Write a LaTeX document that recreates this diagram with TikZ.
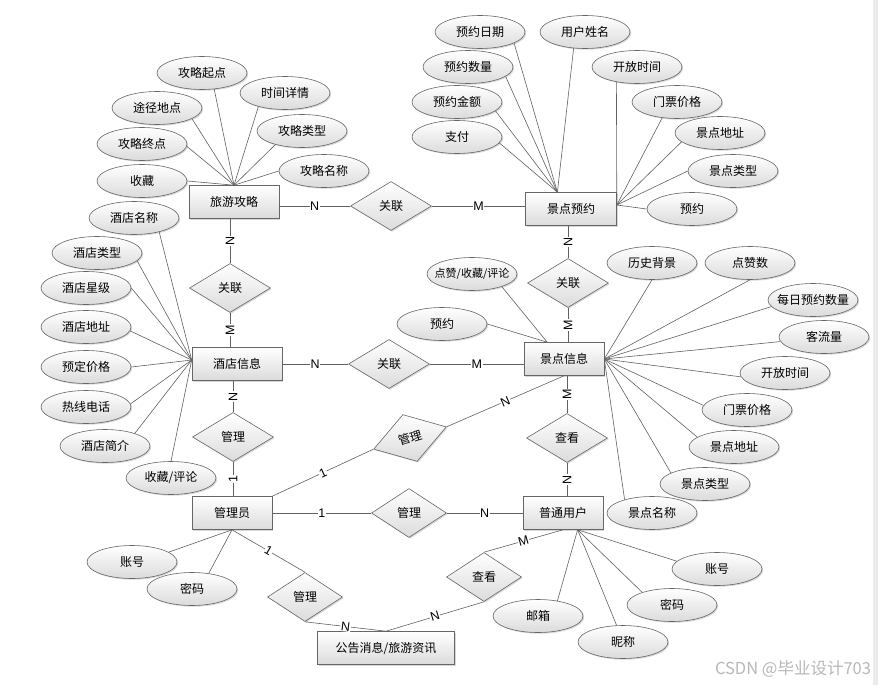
\documentclass[tikz,border=0pt]{standalone}
\usepackage{fontspec}
\setmainfont{Noto Sans CJK SC}
\newfontfamily\cardfont{Liberation Sans}
\usetikzlibrary{shapes.geometric}
\usetikzlibrary{shadows}

\tikzset{
	entity/.style={rectangle, draw=black!60, line width=0.6pt, top color=white, bottom color=black!14,
		minimum width=90pt, minimum height=33pt, inner sep=0pt, font=\fontsize{12}{14}\selectfont,
		drop shadow={shadow xshift=1.2pt, shadow yshift=-1.2pt, opacity=0.3}},
	attr/.style={ellipse, draw=black!60, line width=0.6pt, top color=white, bottom color=black!14,
		minimum width=90pt, minimum height=33pt, inner sep=0pt, font=\fontsize{12}{14}\selectfont,
		drop shadow={shadow xshift=1.2pt, shadow yshift=-1.2pt, opacity=0.3}},
	rel/.style={diamond, draw=black!60, line width=0.6pt, top color=white, bottom color=black!14,
		minimum width=81pt, minimum height=49pt, inner sep=0pt, font=\fontsize{12}{14}\selectfont,
		drop shadow={shadow xshift=1.2pt, shadow yshift=-1.2pt, opacity=0.3}},
	link/.style={draw=black!62, line width=0.6pt},
	card/.style={fill=white, inner sep=0.6pt, font=\cardfont\fontsize{12.5}{13}\selectfont}
}

\begin{document}
\begin{tikzpicture}[x=1pt,y=-1pt]
			%\draw[help lines] (0,0) grid (878,685);
			\useasboundingbox[fill=white] (0,0) rectangle (878,685);
			\fill[black!8] (873,0) rectangle (878,685);
			
				% entities
				\node[entity] (guide) at (234,202) {旅游攻略};
				\node[entity, minimum width=91pt] (booking) at (571,209) {景点预约};
				\node[entity] (hotel) at (237,364) {酒店信息};
				\node[entity, minimum width=80pt] (spot) at (564,359) {景点信息};
				\node[entity, minimum width=80pt] (admin) at (232,513) {管理员};
				\node[entity, minimum width=80pt] (user) at (563,513) {普通用户};
				\node[entity, minimum width=137pt] (notice) at (386,648) {公告消息/旅游资讯};
				
				% relations
				\node[rel] (r1) at (391,206) {关联};
				\node[rel] (r2) at (230,288) {关联};
				\node[rel] (r3) at (568,283) {关联};
				\node[rel] (r4) at (389,364) {关联};
				\node[rel] (r5) at (233,437) {管理};
				\node[rel, minimum width=76pt, rotate=17] (r6) at (410,438) {管理};
				\node[rel] (r7) at (567,438) {查看};
				\node[rel, minimum width=75pt] (r8) at (409,513) {管理};
				\node[rel, minimum width=75pt] (r9) at (305,597) {管理};
				\node[rel, minimum width=75pt] (r10) at (484,577) {查看};
				
				% guide
				\node[attr] (g1) at (202,73) {攻略起点};
				\node[attr] (g2) at (285,93) {时间详情};
				\node[attr] (g3) at (157,108) {途径地点};
				\node[attr] (g4) at (302,131) {攻略类型};
				\node[attr] (g5) at (142,144) {攻略终点};
				\node[attr] (g6) at (324,171) {攻略名称};
				\node[attr] (g7) at (142,181) {收藏};
				
				% booking
				\node[attr] (b1) at (480,32) {预约日期};
				\node[attr] (b2) at (585,32) {用户姓名};
				\node[attr] (b3) at (468,67) {预约数量};
				\node[attr] (b4) at (457,102) {预约金额};
				\node[attr] (b5) at (457,137) {支付};
				\node[attr] (b6) at (637,67) {开放时间};
				\node[attr] (b7) at (677,102) {门票价格};
				\node[attr] (b8) at (720,133) {景点地址};
				\node[attr] (b9) at (733,171) {景点类型};
				\node[attr] (b10) at (692,209) {预约};
				
				% hotel
				\node[attr] (h1) at (134,218) {酒店名称};
				\node[attr] (h2) at (97,253) {酒店类型};
				\node[attr] (h3) at (86,288) {酒店星级};
				\node[attr] (h4) at (86,327) {酒店地址};
				\node[attr] (h5) at (86,367) {预定价格};
				\node[attr] (h6) at (86,407) {热线电话};
				\node[attr] (h7) at (105,446) {酒店简介};
				\node[attr] (h8) at (171,478) {收藏/评论};
				
				% spot
				\node[attr] (s1) at (472,274) {\fontsize{11}{12}\selectfont\makebox[0pt]{点赞/收藏/评论}};
				\node[attr] (s2) at (442,324) {预约};
				\node[attr] (s3) at (652,263) {历史背景};
				\node[attr] (s4) at (750,263) {点赞数};
				\node[attr] (s5) at (813,300) {\makebox[0pt]{每日预约数量}};
				\node[attr] (s6) at (824,337) {客流量};
				\node[attr] (s7) at (785,373) {开放时间};
				\node[attr] (s8) at (747,410) {门票价格};
				\node[attr] (s9) at (734,447) {景点地址};
				\node[attr] (s10) at (705,484) {景点类型};
				\node[attr] (s11) at (652,513) {景点名称};
				
				% admin, user
				\node[attr] (a1) at (132,562) {账号};
				\node[attr] (a2) at (192,589) {密码};
				\node[attr] (u1) at (538,616) {邮箱};
				\node[attr] (u2) at (623,642) {昵称};
				\node[attr] (u3) at (672,605) {密码};
				\node[attr] (u4) at (717,569) {账号};
				
				\draw[link] (g1.307) -- (guide.north);
				\draw[link] (g2.207) -- (guide.north);
				\draw[link] (g3.343) -- (guide.north);
				\draw[link] (g4.207) -- (guide.north);
				\draw[link] (g5.357) -- (guide.north);
				\draw[link] (g6.west) -- (guide.north);
				\draw[link] (g7.east) -- (guide.north);
				
				\draw[link] (b1.342) -- (booking.129);
				\draw[link] (b2.235) -- (booking.129);
				\draw[link] (b3.346) -- (booking.129);
				\draw[link] (b4.347) -- (booking.129);
				\draw[link] (b5.352) -- (booking.129);
				\draw[link] (b6.216) -- (booking.5);
				\draw[link] (b7.227) -- (booking.5);
				\draw[link] (b8.193) -- (booking.5);
				\draw[link] (b9.west) -- (booking.5);
				\draw[link] (b10.west) -- (booking.5);
				
				\draw[link] (h1.331) -- (hotel.175);
				\draw[link] (h2.349) -- (hotel.175);
				\draw[link] (h3.east) -- (hotel.175);
				\draw[link] (h4.355) -- (hotel.175);
				\draw[link] (h5.east) -- (hotel.175);
				\draw[link] (h6.4) -- (hotel.175);
				\draw[link] (h7.23) -- (hotel.175);
				\draw[link] (h8.north) -- (hotel.175);
				
				\draw[link] (s1.337) -- (spot.135);
				\draw[link] (s2.east) -- (spot.135);
				\draw[link] (s3.south) -- (spot.east);
				\draw[link] (s4.south) -- (spot.east);
				\draw[link] (s5.189) -- (spot.east);
				\draw[link] (s6.186) -- (spot.east);
				\draw[link] (s7.185) -- (spot.east);
				\draw[link] (s8.174) -- (spot.east);
				\draw[link] (s9.165) -- (spot.east);
				\draw[link] (s10.162) -- (spot.east);
				\draw[link] (s11.154) -- (spot.east);
				
				\draw[link] (a1.15) -- (admin.south);
				\draw[link] (a2.43) -- (admin.south);
				\draw[link] (u1.38) -- (user.311);
				\draw[link] (u2.111) -- (user.311);
				\draw[link] (u3.157) -- (user.311);
				\draw[link] (u4.169) -- (user.311);
				
				% relations and cardinalities
				\draw[link] (r1.west -| guide.east) -- node[card] {N} (r1.west);
				\draw[link] (r1.east) -- node[card] {M} (r1.east -| booking.west);
				\draw[link] (r2.north |- guide.south) -- node[card, rotate=90] {N} (r2.north);
				\draw[link] (r2.south) -- node[card, rotate=90] {M} (r2.south |- hotel.north);
				\draw[link] (hotel.east) -- node[card] {N} (r4.west);
				\draw[link] (r4.east) -- node[card] {M} (r4.east -| spot.west);
				\draw[link] (r3.north |- booking.south) -- node[card, rotate=90] {N} (r3.north);
				\draw[link] (r3.south) -- node[card, rotate=90] {M} (r3.south |- spot.north);
				\draw[link] (r5.north |- hotel.south) -- node[card, rotate=90] {N} (r5.north);
				\draw[link] (r5.south) -- node[card, rotate=90] {1} (r5.south |- admin.north);
				\draw[link] (admin.north east) -- node[card, sloped] {1} (r6.west);
				\draw[link] (r6.east) -- node[card, sloped] {N} (spot.south);
				\draw[link] (r7.north |- spot.south) -- node[card, rotate=90] {M} (r7.north);
				\draw[link] (r7.south) -- node[card, rotate=90] {N} (r7.south |- user.north);
				\draw[link] (admin.east) -- node[card] {1} (r8.west);
				\draw[link] (r8.east) -- node[card] {N} (user.west);
				\draw[link] (admin.south) -- node[card, sloped] {1} (r9.north);
				\draw[link] (r9.south) -- node[card, sloped] {N} (notice.north);
				\draw[link] (notice.north) -- node[card, sloped] {N} (r10.south);
				\draw[link] (r10.north) -- node[card, sloped] {M} (user.south);
				
				\node[text=black!28, font=\fontsize{16.5}{18}\selectfont] (mark) at (793,669) {CSDN @毕业设计703};
			
			\end{tikzpicture}
\end{document}
